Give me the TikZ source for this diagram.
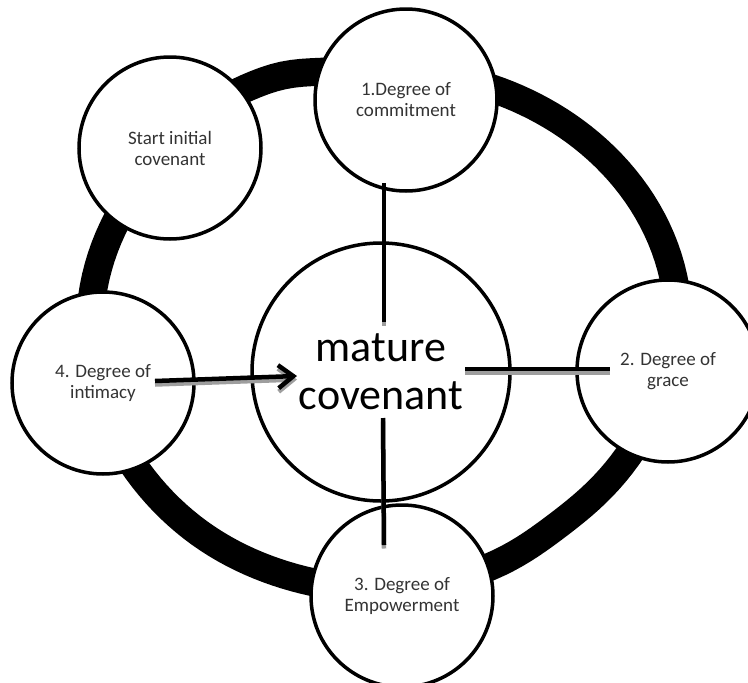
\documentclass[tikz,border=0pt]{standalone}
\usepackage{fontspec}
\setmainfont{Carlito}
\usetikzlibrary{arrows.meta}
\begin{document}
\begin{tikzpicture}[x=1pt,y=-1pt,
  declare function={
    bmp(\a,\c,\w)=1/(1+(min(abs((\a-\c)/\w),5))^4);
    rr(\a)=758.15/sqrt(6.6049*cos(\a)^2+8.7025*sin(\a)^2)
      +12*bmp(\a,121,16)-11*bmp(\a,-35,24)+5*bmp(\a,-110,35);},
  bub/.style={circle,draw=black,line width=3.5pt,fill=white,minimum size=182pt,inner sep=0pt,align=center,font=\fontsize{19}{21}\selectfont,text=black!80},
  hub/.style={circle,draw=black,line width=3.5pt,fill=white,minimum size=258pt,inner sep=0pt,align=center,font=\fontsize{44}{48}\selectfont,text=black},
  conn/.style={line width=4.5pt,draw=black},
  shade/.style={line width=4.5pt,draw=black!38},
  tip/.style={-{Straight Barb[length=15pt,width=23pt]}},
  band/.style={line width=28pt,draw=black,line join=round}]
\useasboundingbox (0,0) rectangle (748,683);
\clip (0,0) rectangle (748,683);
% ring
\draw[band] plot[domain=-180:178, samples=180, variable=\t]
  ({385+rr(\t)*cos(\t)}, {328-rr(\t)*sin(\t)}) -- cycle;
% circles
\node[bub] (start) at (170,148) {Start initial\\covenant};
\node[bub] (d1) at (406,100) {1.Degree of\\commitment};
\node[bub] (d2) at (668,371) {2. Degree of\\grace};
\node[bub] (d3) at (402,596) {3. Degree of\\Empowerment};
\node[bub] (d4) at (103,383) {4. Degree of\\intimacy};
\node[hub] (mc) at (381,372) {mature\\covenant};
% connector end points
\coordinate (a1) at (384,183);
\coordinate (a2) at (384,322);
\coordinate (b1) at (383,418);
\coordinate (b2) at (384,545);
\coordinate (c1) at (465,369);
\coordinate (c2) at (610,369);
\coordinate (e1) at (155,381);
\coordinate (e2) at (297,376);
% shadows
\draw[shade] ([yshift=-3.5pt]a1) -- ([yshift=-3.5pt]a2);
\draw[shade] ([yshift=-3.5pt]b1) -- ([yshift=-3.5pt]b2);
\draw[shade] ([yshift=-3.5pt]c1) -- ([yshift=-3.5pt]c2);
\draw[shade,tip] ([yshift=-3.5pt]e1) -- ([yshift=-3.5pt]e2);
% connectors
\draw[conn] (a1) -- (a2);
\draw[conn] (b1) -- (b2);
\draw[conn] (c1) -- (c2);
\draw[conn,tip] (e1) -- (e2);
\end{tikzpicture}
\end{document}
